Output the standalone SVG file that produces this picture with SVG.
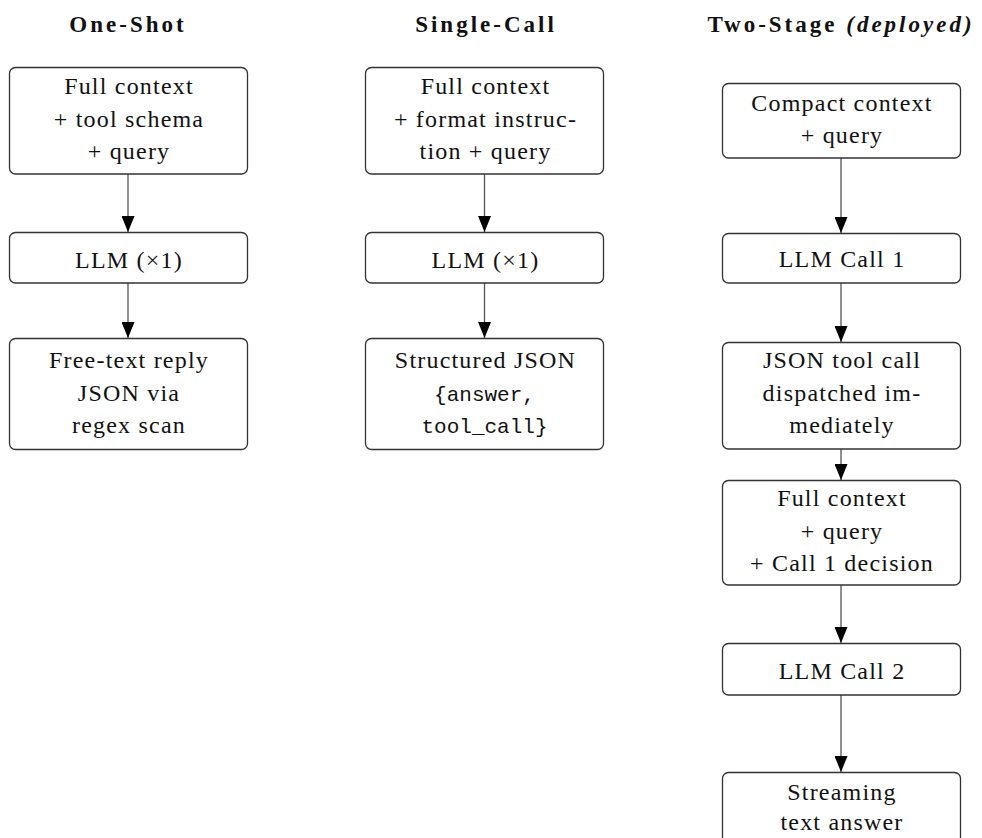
<svg xmlns="http://www.w3.org/2000/svg" width="982" height="838" viewBox="0 0 982 838">
  <style>
    .box { fill: #ffffff; stroke: #333333; stroke-width: 1.3; }
    .lbl { font-family: "Liberation Serif", "Times New Roman", serif; font-size: 24px; letter-spacing: 1.2px; fill: #111111; text-anchor: middle; }
    .mono { font-family: "Liberation Mono", "Courier New", monospace; font-size: 21px; fill: #111111; text-anchor: middle; }
    .title { font-family: "Liberation Serif", "Times New Roman", serif; font-size: 23px; font-weight: bold; letter-spacing: 3px; fill: #111111; text-anchor: middle; }
    .edge { stroke: #555555; stroke-width: 1.3; fill: none; marker-end: url(#arrow); }
  </style>
  <defs>
    <marker id="arrow" viewBox="0 0 16 13" refX="16" refY="6.5" markerWidth="16" markerHeight="13" markerUnits="userSpaceOnUse" orient="auto">
      <path d="M0,0 L16,6.5 L0,13 Z" fill="#000000"/>
    </marker>
  </defs>
  <rect width="982" height="838" fill="#ffffff"/>

  <!-- column headings -->
  <g id="headings">
    <text class="title" x="128" y="32">One-Shot</text>
    <text class="title" x="486" y="32">Single-Call</text>
    <text class="title" x="841" y="32" letter-spacing="3.3">Two-Stage <tspan font-style="italic">(deployed)</tspan></text>
  </g>

  <!-- connectors -->
  <g id="connectors">
    <line class="edge" x1="128" y1="174" x2="128" y2="232"/>
    <line class="edge" x1="128" y1="283" x2="128" y2="338"/>
    <line class="edge" x1="484.5" y1="174" x2="484.5" y2="232"/>
    <line class="edge" x1="484.5" y1="283" x2="484.5" y2="338"/>
    <line class="edge" x1="841" y1="158" x2="841" y2="233"/>
    <line class="edge" x1="841" y1="283" x2="841" y2="342"/>
    <line class="edge" x1="841" y1="449" x2="841" y2="480"/>
    <line class="edge" x1="841" y1="585" x2="841" y2="643"/>
    <line class="edge" x1="841" y1="695" x2="841" y2="772"/>
  </g>

  <!-- One-Shot column -->
  <g id="oneshot-input">
    <rect class="box" x="9.5" y="67.5" width="238" height="106.5" rx="6"/>
    <text class="lbl" x="129" y="94">Full context</text>
    <text class="lbl" x="129" y="127">+ tool schema</text>
    <text class="lbl" x="129" y="159">+ query</text>
  </g>
  <g id="oneshot-llm">
    <rect class="box" x="9.5" y="232.5" width="238" height="50.5" rx="6"/>
    <text class="lbl" x="129" y="268">LLM (×1)</text>
  </g>
  <g id="oneshot-output">
    <rect class="box" x="9.5" y="338.5" width="238" height="111" rx="6"/>
    <text class="lbl" x="129" y="368">Free-text reply</text>
    <text class="lbl" x="129" y="401">JSON via</text>
    <text class="lbl" x="129" y="433">regex scan</text>
  </g>

  <!-- Single-Call column -->
  <g id="singlecall-input">
    <rect class="box" x="365.5" y="67.5" width="238" height="106.5" rx="6"/>
    <text class="lbl" x="485.5" y="94">Full context</text>
    <text class="lbl" x="485.5" y="127">+ format instruc-</text>
    <text class="lbl" x="485.5" y="159">tion + query</text>
  </g>
  <g id="singlecall-llm">
    <rect class="box" x="365.5" y="232.5" width="238" height="50.5" rx="6"/>
    <text class="lbl" x="485.5" y="268">LLM (×1)</text>
  </g>
  <g id="singlecall-output">
    <rect class="box" x="365.5" y="338.5" width="238" height="111" rx="6"/>
    <text class="lbl" x="485.5" y="368">Structured JSON</text>
    <text class="mono" x="484.5" y="401">{answer,</text>
    <text class="mono" x="484.5" y="433">tool_call}</text>
  </g>

  <!-- Two-Stage column -->
  <g id="twostage-input">
    <rect class="box" x="722.5" y="83.5" width="238" height="74.5" rx="6"/>
    <text class="lbl" x="842" y="111">Compact context</text>
    <text class="lbl" x="842" y="143">+ query</text>
  </g>
  <g id="twostage-call1">
    <rect class="box" x="722.5" y="233.5" width="238" height="49.5" rx="6"/>
    <text class="lbl" x="842" y="267">LLM Call 1</text>
  </g>
  <g id="twostage-dispatch">
    <rect class="box" x="722.5" y="342.5" width="238" height="106.5" rx="6"/>
    <text class="lbl" x="842" y="368">JSON tool call</text>
    <text class="lbl" x="842" y="401">dispatched im-</text>
    <text class="lbl" x="842" y="433">mediately</text>
  </g>
  <g id="twostage-context">
    <rect class="box" x="722.5" y="480.5" width="238" height="104.5" rx="6"/>
    <text class="lbl" x="842" y="506">Full context</text>
    <text class="lbl" x="842" y="539">+ query</text>
    <text class="lbl" x="842" y="571">+ Call 1 decision</text>
  </g>
  <g id="twostage-call2">
    <rect class="box" x="722.5" y="643.5" width="238" height="51.5" rx="6"/>
    <text class="lbl" x="842" y="679">LLM Call 2</text>
  </g>
  <g id="twostage-answer">
    <rect class="box" x="722.5" y="772.5" width="238" height="80" rx="6"/>
    <text class="lbl" x="842" y="800">Streaming</text>
    <text class="lbl" x="842" y="830">text answer</text>
  </g>
</svg>
